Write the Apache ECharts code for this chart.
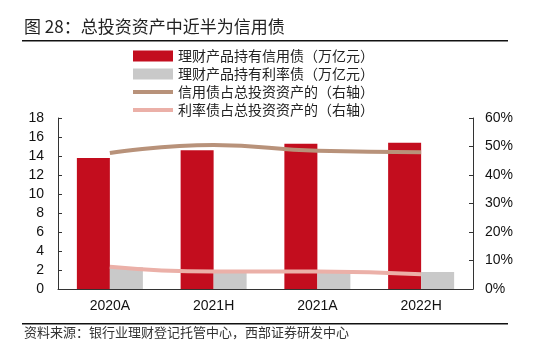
<!doctype html>
<html>
<head>
    <meta charset="utf-8">
    <title>总投资资产中近半为信用债</title>
    <script src="https://cdn.jsdelivr.net/npm/echarts@6/dist/echarts.min.js"></script>
</head>
<body style="margin:0">

    <div id="main" style="width:542px;height:353px;"></div>

    <script type="text/javascript">
        var categories = ['2020A', '2021H', '2021A', '2022H'];
        var creditBond = [13.8, 14.6, 15.3, 15.4];
        var rateBond = [2.3, 1.9, 1.9, 1.8];
        var creditShare = [47.7, 50.5, 48.5, 48.0];
        var rateShare = [7.8, 6.1, 6.1, 5.2];
        var names = ['理财产品持有信用债（万亿元）', '理财产品持有利率债（万亿元）',
                     '信用债占总投资资产的（右轴）', '利率债占总投资资产的（右轴）'];

        var cjk = '"Noto Sans CJK SC", sans-serif';
        var num = '"Liberation Sans", Arial, sans-serif';
        var lineIcon = 'path://M0,0H40V4H0Z';

        var mainChart = echarts.init(document.getElementById('main'));

        var option = {
            animation: false,
            grid: { left: 58, right: 69, top: 118, bottom: 64 },
            legend: {
                orient: 'vertical',
                left: 128,
                top: 44,
                itemGap: 4,
                itemWidth: 40,
                itemHeight: 11,
                symbolKeepAspect: true,
                textStyle: { fontFamily: cjk, fontSize: 14, color: '#222' },
                data: [
                    { name: names[0], icon: 'rect' },
                    { name: names[1], icon: 'rect' },
                    { name: names[2], icon: lineIcon },
                    { name: names[3], icon: lineIcon }
                ]
            },
            xAxis: {
                type: 'category',
                data: categories,
                axisLine: { lineStyle: { color: '#333', width: 1 } },
                axisTick: { inside: true, length: 4, lineStyle: { color: '#333' } },
                axisLabel: { fontFamily: num, fontSize: 14, color: '#111', margin: 10 }
            },
            yAxis: [{
                type: 'value',
                min: 0, max: 18, interval: 2,
                splitLine: { show: false },
                axisLine: { show: true, lineStyle: { color: '#333' } },
                axisTick: { show: true, inside: true, length: 4, lineStyle: { color: '#333' } },
                axisLabel: { fontFamily: num, fontSize: 14, color: '#111', margin: 14 }
            }, {
                type: 'value',
                min: 0, max: 60, interval: 10,
                splitLine: { show: false },
                axisLine: { show: true, lineStyle: { color: '#333' } },
                axisTick: { show: true, inside: true, length: 4, lineStyle: { color: '#333' } },
                axisLabel: { fontFamily: num, fontSize: 14, color: '#111', margin: 12, formatter: '{value}%' }
            }],
            series: [{
                name: names[0],
                type: 'bar',
                data: creditBond,
                barWidth: 33,
                barGap: '0%',
                itemStyle: { color: '#C30D1E' }
            }, {
                name: names[1],
                type: 'bar',
                data: rateBond,
                barWidth: 33,
                itemStyle: { color: '#C9C9C9' }
            }, {
                name: names[2],
                type: 'line',
                yAxisIndex: 1,
                data: creditShare,
                smooth: true,
                symbol: 'none',
                lineStyle: { color: '#B8927A', width: 4 },
                itemStyle: { color: '#B8927A' }
            }, {
                name: names[3],
                type: 'line',
                yAxisIndex: 1,
                data: rateShare,
                smooth: true,
                symbol: 'none',
                lineStyle: { color: '#EBB0A8', width: 4 },
                itemStyle: { color: '#EBB0A8' }
            }],
            graphic: [{
                type: 'text', left: 24, top: 18,
                style: { text: '图 28：总投资资产中近半为信用债', font: '17px ' + cjk, fill: '#222' }
            }, {
                type: 'rect', shape: { x: 22, y: 40, width: 486, height: 1.5 },
                style: { fill: '#111' }
            }, {
                type: 'rect', shape: { x: 22, y: 323, width: 486, height: 1.5 },
                style: { fill: '#111' }
            }, {
                type: 'text', left: 24, top: 326,
                style: { text: '资料来源：银行业理财登记托管中心，西部证券研发中心', font: '13px ' + cjk, fill: '#333' }
            }]
        };

        mainChart.setOption(option);
    </script>
</body>
</html>
